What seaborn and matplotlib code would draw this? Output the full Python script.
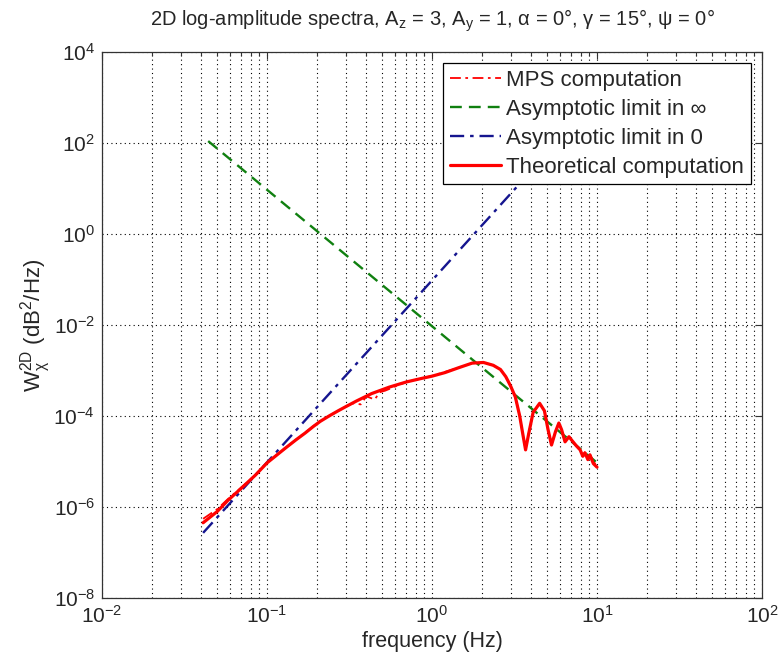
import numpy as np
import pandas as pd
import matplotlib
matplotlib.use("Agg")
import matplotlib.pyplot as plt
import seaborn as sns
from matplotlib.ticker import LogLocator, NullFormatter

# ---------------- data ----------------
theo_f = [0.041, 0.05, 0.058, 0.07, 0.085, 0.1, 0.13, 0.15, 0.17, 0.19, 0.21, 0.24, 0.27,
          0.3, 0.35, 0.43, 0.55, 0.7, 0.85, 1.0, 1.2, 1.45, 1.75, 2.05, 2.35, 2.6, 2.8,
          3.0, 3.2, 3.4, 3.55, 3.69, 3.85, 4.1, 4.49, 4.8, 5.05, 5.3, 5.6, 5.87, 6.1,
          6.4, 6.76, 7.1, 7.5, 7.9, 8.2, 8.45, 8.8, 9.06, 9.5, 10.0]
theo_y = [4.5e-7, 8e-7, 1.4e-6, 2.6e-6, 5e-6, 9.3e-6, 2.0e-5, 3.0e-5, 4.2e-5, 5.8e-5,
          7.6e-5, 1.02e-4, 1.3e-4, 1.6e-4, 2.15e-4, 3.1e-4, 4.3e-4, 5.6e-4, 6.6e-4,
          7.5e-4, 9e-4, 1.15e-3, 1.45e-3, 1.5e-3, 1.3e-3, 1.05e-3, 7.3e-4, 4.5e-4,
          2.6e-4, 1.0e-4, 4e-5, 1.8e-5, 4e-5, 1.2e-4, 1.9e-4, 1.3e-4, 5e-5, 2.3e-5,
          4.5e-5, 7e-5, 5e-5, 2.7e-5, 3.5e-5, 2.8e-5, 2.2e-5, 1.8e-5, 1.3e-5, 1.55e-5,
          1.1e-5, 1.4e-5, 9e-6, 7.5e-6]

mps_f = [0.041, 0.05, 0.058, 0.07, 0.085, 0.1, 0.13, 0.17, 0.21, 0.27, 0.3, 0.33,
         0.37, 0.4, 0.45, 0.48, 0.52, 0.7, 1.0, 1.45, 1.75, 2.05, 2.35, 2.6, 2.8,
         3.0, 3.2, 3.4, 3.55, 3.69, 3.85, 4.1, 4.49, 4.8, 5.05, 5.3, 5.6, 5.87, 6.1,
         6.4, 6.76, 7.1, 7.5, 7.9, 8.45, 9.06, 10.0]
mps_y = [5.5e-7, 9e-7, 1.5e-6, 2.7e-6, 5e-6, 9.5e-6, 2.0e-5, 4.3e-5, 7.8e-5, 1.3e-4,
         1.6e-4, 1.9e-4, 1.8e-4, 2.7e-4, 2.3e-4, 3.3e-4, 3.6e-4, 5.6e-4, 7.6e-4,
         1.15e-3, 1.45e-3, 1.5e-3, 1.3e-3, 1.05e-3, 7.3e-4, 4.5e-4, 2.6e-4, 1.0e-4,
         4e-5, 1.8e-5, 4e-5, 1.2e-4, 1.9e-4, 1.3e-4, 5e-5, 2.3e-5, 4.5e-5, 7e-5,
         5e-5, 2.7e-5, 3.5e-5, 2.8e-5, 2.2e-5, 1.8e-5, 1.55e-5, 1.4e-5, 7.5e-6]

inf_f = [0.044, 10.0]
inf_y = [110.0, 9.4e-6]

zero_f = [0.041, 3.3]
zero_y = [2.7e-7, 11.3]

labels = ["MPS computation", "Asymptotic limit in \u221e", "Asymptotic limit in 0",
          "Theoretical computation"]

# ---------------- style ----------------
sns.set_style("white")
plt.rcParams['font.family'] = ['Liberation Sans', 'DejaVu Sans']
plt.rcParams['mathtext.fontset'] = 'custom'
plt.rcParams['mathtext.rm'] = 'Liberation Sans'
plt.rcParams['mathtext.it'] = 'Liberation Sans'
plt.rcParams['mathtext.bf'] = 'Liberation Sans'

fig = plt.figure(figsize=(7.81, 6.62), dpi=100)
ax = fig.add_axes([0.1306, 0.0967, 0.8451, 0.8248])

RED = "#ff0000"
GREEN = "#108010"
BLUE = "#15158f"

sns.lineplot(x=mps_f, y=mps_y, ax=ax, color=RED, lw=1.3, estimator=None, sort=False,
             label=labels[0], linestyle=(0, (6, 2.5, 1.5, 2.5)))
sns.lineplot(x=inf_f, y=inf_y, ax=ax, color=GREEN, lw=1.7, estimator=None, sort=False,
             label=labels[1], linestyle=(0, (5, 3)))
sns.lineplot(x=zero_f, y=zero_y, ax=ax, color=BLUE, lw=1.7, estimator=None, sort=False,
             label=labels[2], linestyle=(0, (6, 2.5, 1.5, 2.5)))
sns.lineplot(x=theo_f, y=theo_y, ax=ax, color=RED, lw=2.3, estimator=None, sort=False,
             label=labels[3])

ax.set_xscale("log")
ax.set_yscale("log")
ax.set_xlim(1e-2, 1e2)
ax.set_ylim(1e-8, 1e4)

ax.xaxis.set_major_locator(LogLocator(base=10, numticks=10))
ax.xaxis.set_minor_locator(LogLocator(base=10, subs=np.arange(2, 10), numticks=20))
ax.xaxis.set_minor_formatter(NullFormatter())
ax.set_yticks([1e-8, 1e-6, 1e-4, 1e-2, 1e0, 1e2, 1e4])
ax.yaxis.set_minor_locator(matplotlib.ticker.NullLocator())

ax.grid(True, which="major", axis="both", color="black", linestyle=(0, (1, 3)), lw=0.8)
ax.grid(True, which="minor", axis="x", color="black", linestyle=(0, (1, 3)), lw=0.8)

ax.tick_params(which="both", direction="in", top=True, right=True, labelsize=15,
               length=5, width=0.8, color="#333333")
ax.tick_params(which="minor", length=3)
ax.tick_params(axis="x", which="major", pad=5)
ax.tick_params(axis="y", which="major", pad=5)
for s in ax.spines.values():
    s.set_color("#333333")
    s.set_linewidth(0.9)

ax.set_title(r"2D log-amplitude spectra, A$_z$ = 3, A$_y$ = 1, $\alpha$ = 0°, $\gamma$ = 15°, $\psi$ = 0°",
             fontsize=14.5, pad=19)
ax.set_xlabel("frequency (Hz)", fontsize=15.5, labelpad=3)
ax.set_ylabel(r"W$_\chi^{2D}$ (dB$^2$/Hz)", fontsize=16, labelpad=0)

leg = ax.legend(loc="upper right", fontsize=16, frameon=True, fancybox=False,
                edgecolor="black", framealpha=1, borderpad=0.3, labelspacing=0.36,
                handlelength=2.3, handletextpad=0.25, borderaxespad=0.5)
leg.get_frame().set_linewidth(0.9)

fig.savefig("out.png", dpi=100)
